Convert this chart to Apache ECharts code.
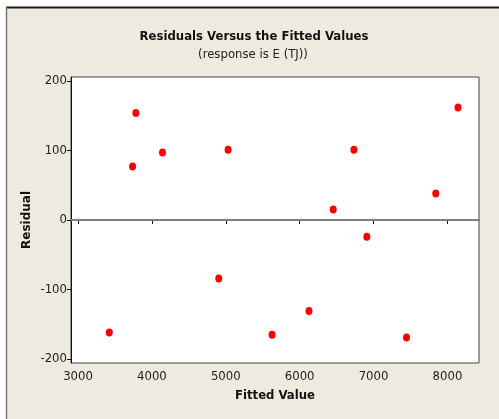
<!DOCTYPE html>
<html>
<head>
<meta charset="utf-8">
<script src="https://cdn.jsdelivr.net/npm/echarts@6/dist/echarts.min.js"></script>
<style>
  html, body { margin: 0; padding: 0; background: #fff; }
  #residPlot { width: 499px; height: 419px; }
</style>
</head>
<body>
<div id="residPlot"></div>
<script>
var fittedValues = [3423, 3738, 3783, 4143, 4905, 5031, 5626, 6126, 6454, 6734, 6909, 7446, 7842, 8143];
var residuals    = [-162, 77, 154, 97, -84, 101, -165, -131, 15, 101, -24, -169, 38, 162];
var xTicks = [3000, 4000, 5000, 6000, 7000, 8000];
var yTicks = [-200, -100, 0, 100, 200];

var narrow = '"Liberation Sans Narrow", "DejaVu Sans Condensed", sans-serif';

var points = fittedValues.map(function (x, i) { return [x, residuals[i]]; });

var residChart = echarts.init(document.getElementById('residPlot'));

var residOption = {
    backgroundColor: '#ffffff',
    animation: false,
    graphic: [
        // beige panel with its frame
        { type: 'rect', shape: { x: 6, y: 7, width: 500, height: 420 }, style: { fill: '#eeeae0' }, z: -10 },
        { type: 'line', shape: { x1: 6, y1: 7.5, x2: 499, y2: 7.5 }, style: { stroke: '#1a1a1a', lineWidth: 2 }, z: -9 },
        { type: 'line', shape: { x1: 6.5, y1: 7, x2: 6.5, y2: 419 }, style: { stroke: '#7a7a7a', lineWidth: 1.5 }, z: -9 },
        { type: 'text', x: 254, y: 37, style: { text: 'Residuals Versus the Fitted Values', align: 'center', verticalAlign: 'middle', font: 'bold 13px ' + narrow, fill: '#111' } },
        { type: 'text', x: 253, y: 55, style: { text: '(response is E (TJ))', align: 'center', verticalAlign: 'middle', font: '13px ' + narrow, fill: '#222' } }
    ],
    grid: {
        left: 71, top: 77, right: 20, bottom: 56,
        show: true,
        backgroundColor: '#ffffff',
        borderColor: '#444',
        borderWidth: 1
    },
    xAxis: {
        type: 'value',
        min: 2905, max: 8427,
        name: 'Fitted Value',
        nameLocation: 'middle',
        nameGap: 26,
        nameMoveOverlap: false,
        nameTextStyle: { fontFamily: narrow, fontWeight: 'bold', fontSize: 13, color: '#111' },
        splitLine: { show: false },
        axisLine: { lineStyle: { color: '#111', width: 1 } },
        axisTick: { show: true, length: 4, customValues: xTicks, lineStyle: { color: '#111' } },
        axisLabel: { customValues: xTicks, margin: 7, fontFamily: narrow, fontSize: 13, color: '#222', formatter: function (v) { return String(v); } }
    },
    yAxis: {
        type: 'value',
        min: -205.7, max: 205.7,
        name: 'Residual',
        nameLocation: 'middle',
        nameRotate: 90,
        nameGap: 38,
        nameMoveOverlap: false,
        nameTextStyle: { fontFamily: 'DejaVu Sans, sans-serif', fontWeight: 'bold', fontSize: 12, color: '#111' },
        splitLine: { show: false },
        axisLine: { show: true, lineStyle: { color: '#111', width: 1 } },
        axisTick: { show: true, length: 4, customValues: yTicks, lineStyle: { color: '#111' } },
        axisLabel: { customValues: yTicks, margin: 4, fontFamily: narrow, fontSize: 13, color: '#222', formatter: function (v) { return String(v); } }
    },
    series: [
        {
            type: 'scatter',
            data: points,
            symbol: 'circle',
            symbolSize: [7, 8],
            itemStyle: { color: '#ff0000', opacity: 1 },
            z: 5,
            markLine: {
                silent: true,
                symbol: 'none',
                label: { show: false },
                lineStyle: { color: '#808080', width: 2, type: 'solid' },
                data: [{ yAxis: 0 }]
            }
        }
    ]
};

residChart.setOption(residOption);
</script>
</body>
</html>
